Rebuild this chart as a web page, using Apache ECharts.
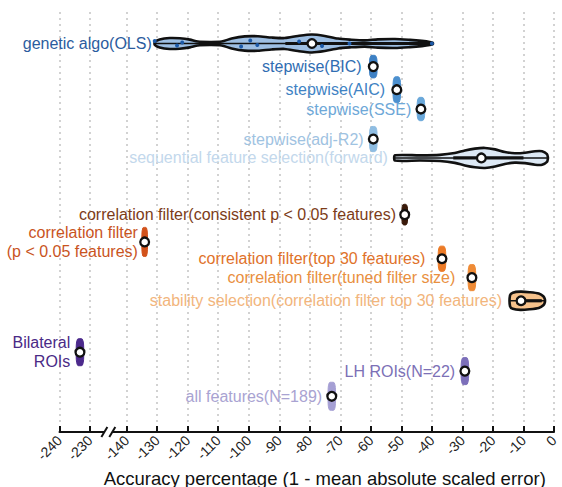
<!DOCTYPE html>
<html>
<head>
<meta charset="utf-8">
<script src="https://cdn.jsdelivr.net/npm/echarts@6/dist/echarts.min.js"></script>
<style>
  html, body { margin: 0; padding: 0; background: #fff; }
  #chart { width: 562px; height: 487px; }
</style>
</head>
<body>
<div id="chart"></div>
<script>
// Feature-selection methods, one row each (top to bottom)
const methods = [
  'genetic algo(OLS)',
  'stepwise(BIC)',
  'stepwise(AIC)',
  'stepwise(SSE)',
  'stepwise(adj-R2)',
  'sequential feature selection(forward)',
  'correlation filter(consistent p < 0.05 features)',
  'correlation filter\n(p < 0.05 features)',
  'correlation filter(top 30 features)',
  'correlation filter(tuned filter size)',
  'stability selection(correlation filter top 30 features)',
  'Bilateral\nROIs',
  'LH ROIs(N=22)',
  'all features(N=189)'
];

// Vertical slot of each row on the hidden row axis
const rowPos = [1.5, 2.6, 3.7, 4.62, 6.05, 6.95, 9.65, 10.95, 11.75, 12.65, 13.75, 16.2, 17.1, 18.3];

// Median accuracy of each method
const medians = [-79.3, -59.2, -51.5, -43.6, -59.2, -23.8, -48.9, -134.1, -36.7, -26.9, -10.8, -233.3, -29.2, -72.8];

// Violin outlines: [accuracy, relative density]
const violins = [
  [[-130.8,0.1],[-129.2,0.3],[-125.9,0.42],[-122.6,0.4],[-119.3,0.3],[-116.7,0.15],[-112.8,0.12],[-108.9,0.15],[-105.6,0.38],[-101.3,0.55],[-97,0.56],[-92.5,0.46],[-88.2,0.42],[-83.9,0.58],[-79.3,0.69],[-75.1,0.58],[-70.8,0.38],[-66.9,0.3],[-62,0.24],[-57.7,0.32],[-52.1,0.35],[-47.2,0.28],[-43.3,0.2],[-40.7,0.12],[-39.7,0.05]],
  [[-60.4,0.5],[-60.0,0.82],[-59.2,0.87],[-58.4,0.82],[-58.0,0.5]],
  [[-52.7,0.55],[-52.3,0.95],[-51.5,1.0],[-50.7,0.95],[-50.3,0.55]],
  [[-44.8,0.5],[-44.4,0.85],[-43.6,0.9],[-42.8,0.85],[-42.4,0.5]],
  [[-60.4,0.55],[-60.0,0.92],[-59.2,0.97],[-58.4,0.92],[-58.0,0.55]],
  [[-52.1,0.2],[-43.9,0.2],[-37.4,0.24],[-32.5,0.38],[-29.2,0.58],[-25.9,0.72],[-22.6,0.77],[-19.3,0.66],[-16.1,0.46],[-12.8,0.36],[-9.5,0.4],[-6.2,0.52],[-3.9,0.52],[-2.3,0.3],[-2.0,0.05]],
  [[-49.8,0.5],[-49.5,0.75],[-48.9,0.8],[-48.3,0.75],[-48.0,0.5]],
  [[-135.0,0.6],[-134.7,1.08],[-134.1,1.12],[-133.5,1.08],[-133.2,0.6]],
  [[-37.9,0.55],[-37.5,0.93],[-36.7,0.97],[-35.9,0.93],[-35.5,0.55]],
  [[-28.1,0.55],[-27.7,0.97],[-26.9,1.0],[-26.1,0.97],[-25.7,0.55]],
  [[-14.4,0.42],[-13.5,0.62],[-11,0.7],[-8,0.66],[-5,0.56],[-3.5,0.35],[-3.0,0.12]],
  [[-234.5,0.55],[-234.1,1.0],[-233.3,1.04],[-232.5,1.0],[-232.1,0.55]],
  [[-30.4,0.55],[-30.0,1.0],[-29.2,1.04],[-28.4,1.0],[-28.0,0.55]],
  [[-74.0,0.55],[-73.6,1.04],[-72.8,1.08],[-72.0,1.04],[-71.6,0.55]]
];

// Interquartile range drawn inside the wide violins
const boxes = [[-88, -40], null, null, null, null, [-33, -10], null, null, null, null, [-10.8, -4], null, null, null];

// Individual runs of the genetic algorithm
const geneticRuns = [-130.8, -123.5, -121.8, -102.5, -99.5, -97.2, -83.5, -76.0, -67.0, -40.0];

// Tick labels of the broken accuracy axis
const tickLabels = [-240, -230, -140, -130, -120, -110, -100, -90, -80, -70, -60, -50, -40, -30, -20, -10, 0];
const axisTitle = 'Accuracy percentage (1 - mean absolute scaled error)';

// Styling per row
const textColors = ['#2b5c9e', '#2f6db2', '#3f83c4', '#6ea8d8', '#9fc3e2', '#c3d8ec', '#7c3c18', '#c9541e', '#df722a', '#e98f40', '#f2b57c', '#4a2a86', '#7c70b6', '#a9a3d2'];
const fillColors = ['#9ebfe3', '#3d80c4', '#4c90cf', '#6aa8da', '#8fbde2', '#dde9f5', '#3a1a0a', '#d2521b', '#ec7a26', '#ef8b36', '#f6c28c', '#4c2a8c', '#7c6fba', '#a59fd4'];
const outlined = [true, false, false, false, false, true, false, false, false, false, true, false, false, false];
const labelGap = [3, 8, 8, 6, 6, 7, 6, 4, 13, 13, 8, 6, 6, 6];

// The axis skips -230 .. -140: values left of the break are shifted right by 78
const BREAK_SHIFT = 78;
const toAxis = v => (v < -185 ? v + BREAK_SHIFT : v);
const fromAxis = d => (d < -145 ? d - BREAK_SHIFT : d);

const HALF = 13;   // pixel half-height of density 1
const FONT = '16px "Liberation Sans", Arial, sans-serif';

const chart = echarts.init(document.getElementById('chart'), null, { renderer: 'svg' });

function renderViolin(params, api) {
  const i = api.value(0);
  const row = rowPos[i];
  const yc = api.coord([0, row])[1];
  const px = v => api.coord([toAxis(v), row])[0];
  const prof = violins[i];
  const pts = prof.map(([v, h]) => [px(v), yc - h * HALF])
    .concat(prof.slice().reverse().map(([v, h]) => [px(v), yc + h * HALF]));
  const children = [];
  children.push({
    type: 'polygon',
    shape: { points: pts, smooth: outlined[i] ? 0.25 : 0.35 },
    style: outlined[i]
      ? { fill: fillColors[i], stroke: '#111', lineWidth: 2.6, lineJoin: 'round' }
      : { fill: fillColors[i], stroke: fillColors[i], lineWidth: 1 }
  });
  if (outlined[i]) {
    const lo = prof[0][0], hi = prof[prof.length - 1][0];
    children.push({ type: 'line', shape: { x1: px(lo), y1: yc, x2: px(hi), y2: yc }, style: { stroke: '#111', lineWidth: 1.4 } });
    if (boxes[i]) {
      children.push({ type: 'line', shape: { x1: px(boxes[i][0]), y1: yc, x2: px(boxes[i][1]), y2: yc }, style: { stroke: '#111', lineWidth: 3.2 } });
    }
  }
  if (i === 0) {
    geneticRuns.forEach((v, k) => {
      const dy = [-2.5, 2, -1, 3, -3, 1.5, -2, 2.5, 0, 0][k];
      children.push({ type: 'circle', shape: { cx: px(v), cy: yc + dy, r: 2 }, style: { fill: '#1d5aa8' } });
    });
  }
  children.push({
    type: 'circle',
    shape: { cx: px(medians[i]), cy: yc, r: 4.4 },
    style: { fill: '#fff', stroke: '#111', lineWidth: 2.3 }
  });
  children.push({
    type: 'text',
    style: {
      text: methods[i],
      x: px(prof[0][0]) - labelGap[i],
      y: yc,
      align: 'right',
      verticalAlign: 'middle',
      fill: textColors[i],
      font: FONT,
      lineHeight: 19
    }
  });
  return { type: 'group', children: children };
}

const axisTicks = tickLabels.map(toAxis);

chart.setOption({
  animation: false,
  grid: { left: 59.5, right: 8, top: 12, bottom: 55, outerBoundsMode: 'none', containLabel: false },
  xAxis: {
    type: 'value',
    position: 'bottom',
    min: toAxis(-240),
    max: 0,
    axisLine: { onZero: false, lineStyle: { color: '#111', width: 2 } },
    axisTick: { inside: true, length: 6, lineStyle: { color: '#111', width: 2 }, customValues: axisTicks },
    axisLabel: {
      customValues: axisTicks,
      rotate: 45,
      margin: 6,
      color: '#222',
      fontSize: 14,
      fontFamily: 'Liberation Sans',
      formatter: d => String(Math.round(fromAxis(d)))
    },
    splitLine: { show: true, lineStyle: { color: '#c4c4c4', width: 1.5, type: [2, 4] } }
  },
  yAxis: {
    type: 'value', min: 0, max: 20, inverse: true, show: false,
    splitLine: { show: false }
  },
  series: [{
    type: 'custom',
    renderItem: renderViolin,
    data: methods.map((m, i) => [i]),
    encode: { x: -1, y: -1 },
    clip: false
  }]
});

// Axis title and break marks on the axis line between -230 and -140
const axisY = chart.convertToPixel({ yAxisIndex: 0 }, 20);
const xLeft = chart.convertToPixel({ xAxisIndex: 0 }, toAxis(-240));
const xRight = chart.convertToPixel({ xAxisIndex: 0 }, 0);
const s1 = chart.convertToPixel({ xAxisIndex: 0 }, -147.3);
const s2 = chart.convertToPixel({ xAxisIndex: 0 }, -144.7);
chart.setOption({
  graphic: [
    { type: 'rect', shape: { x: s1, y: axisY - 3, width: s2 - s1, height: 6 }, style: { fill: '#fff' }, z: 100 },
    { type: 'line', shape: { x1: s1 - 3, y1: axisY + 5, x2: s1 + 3, y2: axisY - 5 }, style: { stroke: '#111', lineWidth: 2 }, z: 101 },
    { type: 'line', shape: { x1: s2 - 3, y1: axisY + 5, x2: s2 + 3, y2: axisY - 5 }, style: { stroke: '#111', lineWidth: 2 }, z: 101 },
    {
      type: 'text', z: 101,
      style: {
        text: axisTitle,
        x: (xLeft + xRight) / 2 + 18,
        y: axisY + 46,
        align: 'center',
        verticalAlign: 'middle',
        fill: '#111',
        font: '18.5px "Liberation Sans", Arial, sans-serif'
      }
    }
  ]
});
</script>
</body>
</html>
